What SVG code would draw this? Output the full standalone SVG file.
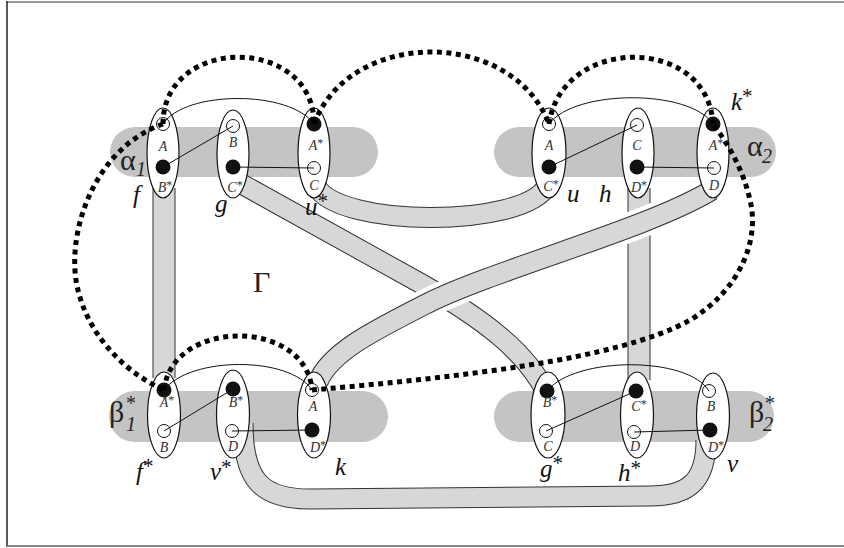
<svg xmlns="http://www.w3.org/2000/svg" xmlns:xlink="http://www.w3.org/1999/xlink" width="844" height="548" viewBox="0 0 844 548">
  <style>
    .bar{fill:#c4c4c4}
    .edge{fill:none;stroke:#333;stroke-width:21}
    .fill{fill:none;stroke:#d7d7d7;stroke-width:19}
    .vedge{fill:none;stroke:#333;stroke-width:23}
    .vfill{fill:none;stroke:#d7d7d7;stroke-width:21}
    .halo{fill:none;stroke:#fff;stroke-width:30}
    .cell{fill:#fff;stroke:#111;stroke-width:1.2}
    .open{fill:#fff;stroke:#111;stroke-width:1}
    .full{fill:#111}
    .wire{fill:none;stroke:#111;stroke-width:1}
    .dots{fill:none;stroke:#000;stroke-width:5;stroke-dasharray:5 4.5}
    .port{font-family:"Liberation Serif",serif;font-style:italic;font-size:14px;fill:#333;text-anchor:middle}
    .lbl{font-family:"Liberation Serif",serif;font-style:italic;font-size:25px;fill:#111}
    .greek{font-family:"Liberation Serif",serif;font-size:30px;fill:#222}
    .idx{font-family:"Liberation Serif",serif;font-style:italic;font-size:20px;fill:#222}
    .st{font-style:normal;font-size:21px}
    .pst{font-style:normal;font-size:12px}
  </style>
  <defs>
    <path id="bandF" d="M164,188 V378"/>
    <path id="bandH" d="M639,188 V380"/>
    <path id="bandG" d="M238,182 L420,283 C480,317 525,350 546,392"/>
    <path id="bandU" d="M316,186 C338,228 524,228 547,186"/>
    <path id="bandV" d="M243,423 C243,481 262,499 310,499 L650,496 C690,496 706,480 706,440"/>
    <path id="bandK" d="M712,190 C650,228 500,268 430,302 C375,330 330,352 318,382"/>
    <clipPath id="crossing">
      <rect x="380" y="196" width="300" height="150"/>
    </clipPath>
  </defs>

  <!-- frame -->
  <g id="frame">
    <path d="M7,2 H844" stroke="#999" stroke-width="2"/>
    <path d="M7,1 V547" stroke="#222" stroke-width="1.5"/>
    <path d="M7,546 H844" stroke="#888" stroke-width="2"/>
  </g>

  <!-- shaded bars -->
  <g id="bars">
    <rect id="alpha1" class="bar" x="110" y="127" width="268" height="50" rx="25"/>
    <rect id="alpha2" class="bar" x="494" y="127" width="282" height="50" rx="25"/>
    <rect id="beta1" class="bar" x="109" y="391" width="279" height="51" rx="25.5"/>
    <rect id="beta2" class="bar" x="494" y="391" width="280" height="51" rx="25.5"/>
  </g>

  <!-- ribbons joining the cells -->
  <g id="bands">
    <use xlink:href="#bandF" class="vedge"/><use xlink:href="#bandF" class="vfill"/>
    <use xlink:href="#bandH" class="vedge"/><use xlink:href="#bandH" class="vfill"/>
    <use xlink:href="#bandG" class="edge"/><use xlink:href="#bandG" class="fill"/>
    <use xlink:href="#bandU" class="edge"/><use xlink:href="#bandU" class="fill"/>
    <use xlink:href="#bandV" class="edge"/><use xlink:href="#bandV" class="fill"/>
    <use xlink:href="#bandK" class="halo" clip-path="url(#crossing)"/>
    <use xlink:href="#bandK" class="edge"/><use xlink:href="#bandK" class="fill"/>
  </g>

  <!-- bar and region names -->
  <g id="names">
    <text class="greek" x="120" y="170">α</text><text class="idx" x="136" y="176">1</text>
    <text class="greek" x="747" y="156">α</text><text class="idx" x="762" y="163">2</text>
    <text class="greek" x="109" y="422">β</text><text class="idx" x="125" y="410" font-style="normal" font-size="19">*</text><text class="idx" x="126" y="431">1</text>
    <text class="greek" x="749" y="422">β</text><text class="idx" x="764" y="410" font-style="normal" font-size="19">*</text><text class="idx" x="763" y="431">2</text>
    <text class="greek" x="253" y="292">Γ</text>
  </g>

  <!-- top row -->
  <g id="f">
    <ellipse class="cell" cx="163" cy="153" rx="16" ry="45"/>
    <circle class="open" cx="163" cy="124" r="6.5"/><circle class="full" cx="163" cy="167" r="7.5"/>
    <text class="port" x="163" y="151">A</text><text class="port" x="165" y="192">B<tspan class="pst" dy="-3">*</tspan></text>
    <text class="lbl" x="133" y="203">f</text>
  </g>
  <g id="g">
    <ellipse class="cell" cx="233" cy="154" rx="16" ry="44"/>
    <circle class="open" cx="233" cy="126" r="6.5"/><circle class="full" cx="233" cy="167" r="7.5"/>
    <text class="port" x="233" y="147">B</text><text class="port" x="235" y="192">C<tspan class="pst" dy="-3">*</tspan></text>
    <text class="lbl" x="215" y="212">g</text>
  </g>
  <g id="u-star">
    <ellipse class="cell" cx="314" cy="153" rx="16" ry="45"/>
    <circle class="full" cx="314" cy="124" r="7.5"/><circle class="open" cx="314" cy="168" r="6.5"/>
    <text class="port" x="316" y="150">A<tspan class="pst" dy="-3">*</tspan></text><text class="port" x="314" y="190">C</text>
    <text class="lbl" x="305" y="215">u<tspan class="st" dy="-7">*</tspan></text>
  </g>
  <g id="u">
    <ellipse class="cell" cx="549" cy="153" rx="17" ry="45"/>
    <circle class="open" cx="549" cy="124" r="6.5"/><circle class="full" cx="549" cy="167" r="7.5"/>
    <text class="port" x="549" y="150">A</text><text class="port" x="551" y="191">C<tspan class="pst" dy="-3">*</tspan></text>
    <text class="lbl" x="567" y="202">u</text>
  </g>
  <g id="h">
    <ellipse class="cell" cx="638" cy="153" rx="16" ry="45"/>
    <circle class="open" cx="637" cy="125" r="6.5"/><circle class="full" cx="637" cy="167" r="7.5"/>
    <text class="port" x="637" y="150">C</text><text class="port" x="639" y="192">D<tspan class="pst" dy="-3">*</tspan></text>
    <text class="lbl" x="599" y="202">h</text>
  </g>
  <g id="k-star">
    <ellipse class="cell" cx="713" cy="153" rx="16" ry="45"/>
    <circle class="full" cx="713" cy="124" r="7.5"/><circle class="open" cx="714" cy="168" r="6.5"/>
    <text class="port" x="716" y="150">A<tspan class="pst" dy="-3">*</tspan></text><text class="port" x="714" y="190">D</text>
    <text class="lbl" x="731" y="110">k<tspan class="st" dy="-7">*</tspan></text>
  </g>

  <!-- bottom row -->
  <g id="f-star">
    <ellipse class="cell" cx="164" cy="415" rx="16.5" ry="43"/>
    <circle class="full" cx="164" cy="390" r="7.5"/><circle class="open" cx="164" cy="431" r="6.5"/>
    <text class="port" x="167" y="407">A<tspan class="pst" dy="-3">*</tspan></text><text class="port" x="164" y="452">B</text>
    <text class="lbl" x="136" y="480">f<tspan class="st" dy="-7">*</tspan></text>
  </g>
  <g id="v-star">
    <ellipse class="cell" cx="233" cy="414" rx="16.5" ry="44"/>
    <circle class="full" cx="233" cy="389" r="7.5"/><circle class="open" cx="232" cy="431" r="6.5"/>
    <text class="port" x="236" y="407">B<tspan class="pst" dy="-3">*</tspan></text><text class="port" x="233" y="451">D</text>
    <text class="lbl" x="210" y="480">v<tspan class="st" dy="-6">*</tspan></text>
  </g>
  <g id="k">
    <ellipse class="cell" cx="314" cy="415" rx="16.5" ry="43"/>
    <circle class="open" cx="312" cy="390" r="6.5"/><circle class="full" cx="312" cy="430" r="7.5"/>
    <text class="port" x="313" y="411">A</text><text class="port" x="318" y="452">D<tspan class="pst" dy="-3">*</tspan></text>
    <text class="lbl" x="335" y="475">k</text>
  </g>
  <g id="g-star">
    <ellipse class="cell" cx="548" cy="415" rx="17" ry="43"/>
    <circle class="full" cx="547" cy="391" r="7.5"/><circle class="open" cx="546" cy="431" r="6.5"/>
    <text class="port" x="550" y="407">B<tspan class="pst" dy="-3">*</tspan></text><text class="port" x="548" y="451">C</text>
    <text class="lbl" x="540" y="477">g<tspan class="st" dy="-7">*</tspan></text>
  </g>
  <g id="h-star">
    <ellipse class="cell" cx="637" cy="415" rx="16.5" ry="43"/>
    <circle class="full" cx="636" cy="391" r="7.5"/><circle class="open" cx="634" cy="432" r="6.5"/>
    <text class="port" x="639" y="411">C<tspan class="pst" dy="-3">*</tspan></text><text class="port" x="635" y="451">D</text>
    <text class="lbl" x="618" y="481">h<tspan class="st" dy="-6">*</tspan></text>
  </g>
  <g id="v">
    <ellipse class="cell" cx="713" cy="416" rx="16.5" ry="43"/>
    <circle class="open" cx="709" cy="391" r="6.5"/><circle class="full" cx="710" cy="430" r="7.5"/>
    <text class="port" x="711" y="411">B</text><text class="port" x="716" y="452">D<tspan class="pst" dy="-3">*</tspan></text>
    <text class="lbl" x="727" y="472">v</text>
  </g>

  <!-- thin wires and dotted loops -->
  <g id="connectors">
    <path class="wire" d="M163,124 C185,90 290,90 314,124"/>
    <path class="wire" d="M549,124 C575,89 690,89 713,124"/>
    <path class="wire" d="M164,390 C190,356 290,356 312,390"/>
    <path class="wire" d="M547,391 C575,356 688,356 709,391"/>
    <path class="wire" d="M163,167 L233,126"/>
    <path class="wire" d="M233,167 L314,168"/>
    <path class="wire" d="M549,167 L637,125"/>
    <path class="wire" d="M637,167 L714,168"/>
    <path class="wire" d="M164,431 L233,389"/>
    <path class="wire" d="M232,431 L312,430"/>
    <path class="wire" d="M546,431 L636,391"/>
    <path class="wire" d="M634,432 L710,430"/>

    <path class="dots" d="M163,124 C163,35 314,35 314,124"/>
    <path class="dots" d="M314,124 C350,28 512,28 549,124"/>
    <path class="dots" d="M549,124 C562,35 708,35 713,124"/>
    <path class="dots" d="M163,124 C90,150 65,240 78,290 C90,340 130,375 164,390"/>
    <path class="dots" d="M164,390 C172,318 306,318 312,390"/>
    <path class="dots" d="M312,390 C450,378 620,360 690,320 C740,290 760,240 750,200 C742,165 725,140 713,124"/>
  </g>
</svg>
